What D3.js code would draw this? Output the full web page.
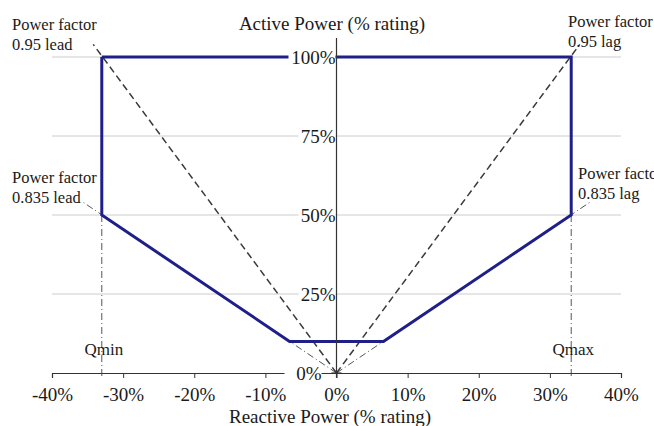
<!DOCTYPE html>
<html>
<head>
<meta charset="utf-8">
<script src="https://cdn.jsdelivr.net/npm/d3@7"></script>
<style>
  body { margin: 0; background: #fff; }
  text { font-family: "Liberation Serif", "DejaVu Serif", serif; fill: #1a1a1a; }
</style>
</head>
<body>
<script>
// reactive power (% rating) ticks and active power (% rating) ticks
const xTicks = [-40, -30, -20, -10, 0, 10, 20, 30, 40]
const yTicks = [0, 25, 50, 75, 100]

// capability curve, closed outline (Q %, P %)
const curveQ = [-33, -33, -6.6, 6.6, 33, 33, -33]
const curveP = [100, 50, 10, 10, 50, 100, 100]

// power factor lines from the origin (0.95 dashed, 0.835 dash-dot)
const pf95 = [{ q: -34.2, p: 104 }, { q: 34.2, p: 104 }]
const pf835 = [{ q: -35.6, p: 54 }, { q: 35.6, p: 54 }]

// Qmin / Qmax limits
const qLimits = [{ name: "Qmin", q: -33 }, { name: "Qmax", q: 33 }]

const labels = [
    { lines: ["Power factor", "0.95 lead"], x: 12, y: 30 },
    { lines: ["Power factor", "0.95 lag"], x: 568, y: 27 },
    { lines: ["Power factor", "0.835 lead"], x: 12, y: 183 },
    { lines: ["Power factor", "0.835 lag"], x: 578, y: 179 }
]

const width = 654, height = 426

const x = d3.scaleLinear().domain([-40, 40]).range([52, 621])
const y = d3.scaleLinear().domain([0, 100]).range([373, 57])

const svg = d3.select("body").append("svg")
    .attr("width", width)
    .attr("height", height)

// gridlines
svg.append("g").selectAll("line")
    .data(yTicks.filter(d => d > 0))
    .enter()
    .append("line")
    .attr("x1", x(-40))
    .attr("x2", x(40))
    .attr("y1", d => y(d))
    .attr("y2", d => y(d))
    .attr("stroke", "#cccccc")
    .attr("stroke-width", 1)

// Qmin/Qmax vertical dash-dot
svg.append("g").selectAll("line")
    .data(qLimits)
    .enter()
    .append("line")
    .attr("x1", d => x(d.q))
    .attr("x2", d => x(d.q))
    .attr("y1", y(50))
    .attr("y2", y(0) + 6)
    .attr("stroke", "#555")
    .attr("stroke-width", 1)
    .attr("stroke-dasharray", "7,3,1,3")

svg.append("g").selectAll("text")
    .data(qLimits)
    .enter()
    .append("text")
    .attr("x", d => x(d.q) + 2)
    .attr("y", y(0) - 18)
    .attr("text-anchor", "middle")
    .style("font-size", "17px")
    .text(d => d.name)

// x axis
const xAxis = d3.axisBottom(x)
    .tickValues(xTicks)
    .tickSize(5)
    .tickPadding(10)
    .tickFormat(d => d + "%")
const gx = svg.append("g")
    .attr("transform", `translate(0,${y(0)})`)
    .call(xAxis)
gx.select(".domain").attr("stroke", "#333").attr("stroke-width", 1.2)
gx.selectAll(".tick line").attr("stroke", "#333")
gx.selectAll(".tick text")
    .style("font-size", "19px")
    .style("font-family", "Liberation Serif")
    .attr("fill", "#1a1a1a")

// power factor lines
svg.append("g").selectAll("line")
    .data(pf835)
    .enter()
    .append("line")
    .attr("x1", x(0))
    .attr("y1", y(0))
    .attr("x2", d => x(d.q))
    .attr("y2", d => y(d.p))
    .attr("stroke", "#555")
    .attr("stroke-width", 1)
    .attr("stroke-dasharray", "7,3,1,3")

svg.append("g").selectAll("line")
    .data(pf95)
    .enter()
    .append("line")
    .attr("x1", x(0))
    .attr("y1", y(0))
    .attr("x2", d => x(d.q))
    .attr("y2", d => y(d.p))
    .attr("stroke", "#3a3a3a")
    .attr("stroke-width", 1.5)
    .attr("stroke-dasharray", "7,4")

// capability curve
const curve = d3.line()
    .x(d => x(d[0]))
    .y(d => y(d[1]))
svg.append("path")
    .datum(curveQ.map((q, i) => [q, curveP[i]]))
    .attr("d", curve)
    .attr("fill", "none")
    .attr("stroke", "#1f1f8a")
    .attr("stroke-width", 3)
    .attr("stroke-linejoin", "miter")

// y tick labels with white backing
const yLab = svg.append("g").selectAll("g")
    .data(yTicks)
    .enter()
    .append("g")
    .attr("transform", d => `translate(${d === 0 ? x(0) - 15 : x(0) - 1},${y(d)})`)
yLab.append("rect")
    .attr("x", d => d === 100 ? -47 : -37)
    .attr("y", -9)
    .attr("width", d => d === 100 ? 47 : 37)
    .attr("height", 18)
    .attr("fill", "#fff")
yLab.append("text")
    .attr("text-anchor", "end")
    .attr("dy", "0.35em")
    .style("font-size", "19px")
    .text(d => d + "%")

// y axis line
svg.append("line")
    .attr("x1", x(0))
    .attr("x2", x(0))
    .attr("y1", y(106))
    .attr("y2", y(0) + 5)
    .attr("stroke", "#333")
    .attr("stroke-width", 1.2)
svg.append("line")
    .attr("x1", x(0) - 5)
    .attr("x2", x(0) + 5)
    .attr("y1", y(0))
    .attr("y2", y(0))
    .attr("stroke", "#333")
    .attr("stroke-width", 1.2)

// annotations
const ann = svg.append("g").selectAll("text")
    .data(labels)
    .enter()
    .append("text")
    .attr("x", d => d.x)
    .attr("y", d => d.y)
    .style("font-size", "16.5px")
ann.selectAll("tspan")
    .data(d => d.lines.map((t, i) => ({ t, i, x: d.x })))
    .enter()
    .append("tspan")
    .attr("x", d => d.x)
    .attr("dy", d => d.i === 0 ? 0 : 20)
    .text(d => d.t)

// titles
svg.append("text")
    .attr("x", 332)
    .attr("y", 30)
    .attr("text-anchor", "middle")
    .style("font-size", "19px")
    .text("Active Power (% rating)")
svg.append("text")
    .attr("x", 330)
    .attr("y", 423)
    .attr("text-anchor", "middle")
    .style("font-size", "19px")
    .text("Reactive Power (% rating)")
</script>
</body>
</html>
